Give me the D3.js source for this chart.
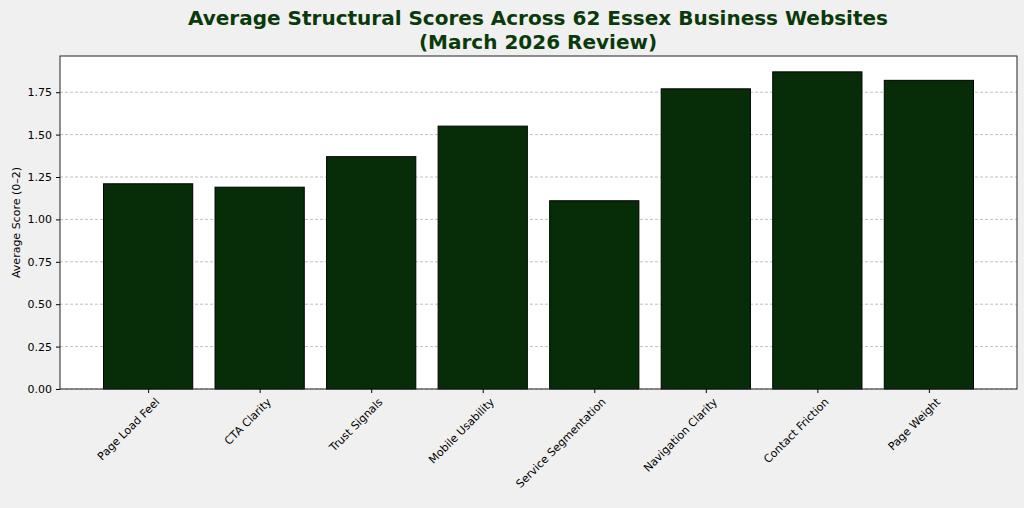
<!DOCTYPE html><html><head><meta charset="utf-8"><script src="https://d3js.org/d3.v7.min.js"></script>
<style>body{margin:0;background:#f0f0f0;font-family:"DejaVu Sans",sans-serif}</style></head><body><svg id="c" width="1024" height="508"></svg>
<script>
const categories=["Page Load Feel","CTA Clarity","Trust Signals","Mobile Usability","Service Segmentation","Navigation Clarity","Contact Friction","Page Weight"];
const scores=[1.21,1.19,1.37,1.55,1.11,1.77,1.87,1.82];
const yTicks=[0,0.25,0.5,0.75,1.0,1.25,1.5,1.75];
const svg=d3.select("#c");
const L=60,R=1017,T=56,B=389;
svg.append("rect").attr("width",1024).attr("height",508).attr("fill","#f0f0f0");
svg.append("rect").attr("x",L).attr("y",T).attr("width",R-L).attr("height",B-T).attr("fill","#fff");
const x=d3.scaleLinear().domain([-0.79,categories.length-1+0.79]).range([L,R]);
const y=d3.scaleLinear().domain([0,d3.max(scores)*1.05]).range([B,T]);
const g=svg.append("g");
g.selectAll("line.grid").data(yTicks).join("line").attr("x1",L).attr("x2",R).attr("y1",d=>y(d)).attr("y2",d=>y(d)).attr("stroke","#b0b0b0").attr("stroke-dasharray","3,2").attr("stroke-width",0.8);
g.selectAll("rect.bar").data(scores).join("rect").attr("x",(d,i)=>x(i-0.4)).attr("width",x(0.8)-x(0)).attr("y",d=>y(d)).attr("height",d=>B-y(d)).attr("fill","#062d08").attr("stroke","#000").attr("stroke-width",1);
const ya=svg.append("g").attr("transform",`translate(${L},0)`).call(d3.axisLeft(y).tickValues(yTicks).tickFormat(d3.format(".2f")).tickSize(4).tickPadding(4));
ya.select(".domain").remove();
ya.selectAll("text").attr("font-size",11).attr("font-family","DejaVu Sans").attr("fill","#000");
const xa=svg.append("g").attr("transform",`translate(0,${B})`).call(d3.axisBottom(x).tickValues(d3.range(categories.length)).tickFormat(i=>categories[i]).tickSize(4));
xa.select(".domain").remove();
xa.selectAll("text").attr("font-size",11).attr("font-family","DejaVu Sans").attr("fill","#000").attr("text-anchor","end").attr("transform","translate(4,6) rotate(-45)").attr("dy","0.35em");
svg.append("rect").attr("x",L).attr("y",T).attr("width",R-L).attr("height",B-T).attr("fill","none").attr("stroke","#222").attr("stroke-width",1);
svg.append("text").attr("x",16).attr("y",(T+B)/2).attr("transform",`rotate(-90,16,${(T+B)/2})`).attr("text-anchor","middle").attr("font-size",11).attr("dy","0.35em").text("Average Score (0–2)");
const t=svg.append("text").attr("x",538).attr("text-anchor","middle").attr("font-size",20).attr("font-weight","bold").attr("fill","#0a3a0a");
t.append("tspan").attr("x",538).attr("y",25).text("Average Structural Scores Across 62 Essex Business Websites");
t.append("tspan").attr("x",538).attr("y",49).text("(March 2026 Review)");
</script></body></html>
